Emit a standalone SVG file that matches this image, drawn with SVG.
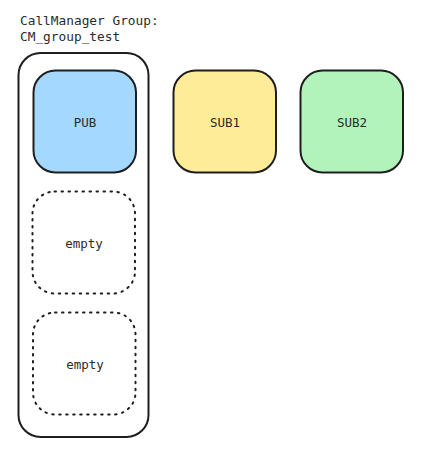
<svg xmlns="http://www.w3.org/2000/svg" width="441" height="466" viewBox="0 0 441 466">
<style>
text{font-family:"DejaVu Sans Mono","Liberation Mono",monospace;font-size:12.5px;fill:#2b2b2b}
.title{font-size:12.8px}
.lbl{text-anchor:middle;dominant-baseline:central}
.solid{stroke:#1e1e1e;stroke-width:2;}
.dot{fill:none;stroke:#1e1e1e;stroke-width:2;stroke-dasharray:1.5 5.5;stroke-linecap:round}
</style>
<rect width="441" height="466" fill="#ffffff"/>
<g id="title">
<text class="title" x="20" y="25">CallManager Group:</text>
<text class="title" x="20" y="41">CM_group_test</text>
</g>
<g id="group">
<rect class="solid" x="18.5" y="53" width="130" height="384" rx="22" fill="none"/>
</g>
<g id="pub">
<rect class="solid" x="33.5" y="70.5" width="102.5" height="102" rx="22" fill="#a5d8ff"/>
<text class="lbl" x="85" y="122">PUB</text>
</g>
<g id="sub1">
<rect class="solid" x="173.5" y="70.5" width="102.5" height="102" rx="22" fill="#ffec99"/>
<text class="lbl" x="225" y="122">SUB1</text>
</g>
<g id="sub2">
<rect class="solid" x="300.5" y="70.5" width="102.5" height="102" rx="22" fill="#b2f2bb"/>
<text class="lbl" x="352" y="122">SUB2</text>
</g>
<g id="empty1">
<rect class="dot" x="32.5" y="191.5" width="102.5" height="102" rx="22"/>
<text class="lbl" x="84" y="243">empty</text>
</g>
<g id="empty2">
<rect class="dot" x="33" y="312.5" width="102.5" height="102" rx="22"/>
<text class="lbl" x="85" y="364">empty</text>
</g>
<g id="connectors"></g>
</svg>
